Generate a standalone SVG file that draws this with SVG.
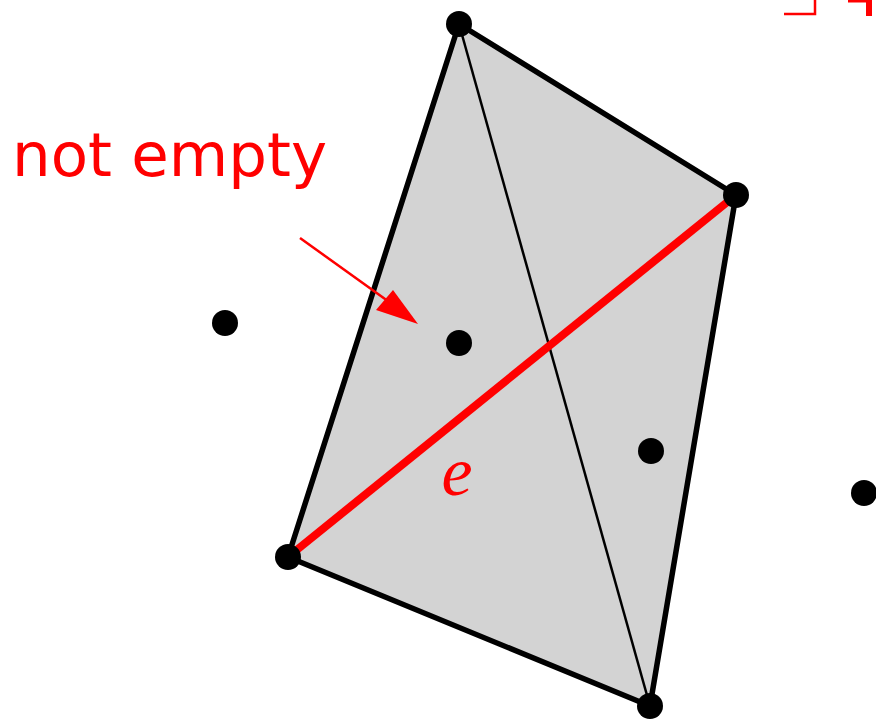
<svg xmlns="http://www.w3.org/2000/svg" width="876" height="719" viewBox="0 0 876 719">
<defs>
<style>
.pt{fill:#000}
.red{stroke:#ff0000;fill:none}
</style>
</defs>
<rect width="876" height="719" fill="#fff"/>
<g id="connectors">
<polygon id="quad" points="459,24 736,195 650,706 288,557" fill="#d3d3d3" stroke="#000" stroke-width="5.5" stroke-linejoin="round"/>
<line x1="459" y1="24" x2="650" y2="706" stroke="#000" stroke-width="2.5"/>
<line id="edge-e" x1="288" y1="557" x2="736" y2="195" stroke="#ff0000" stroke-width="8"/>
<line x1="300" y1="238" x2="392" y2="304" stroke="#ff0000" stroke-width="2.5"/>
<polygon points="418,324 376,310 393,290" fill="#ff0000"/>
</g>
<g id="nodes">
<circle id="v-top" class="pt" cx="459" cy="24" r="13"/>
<circle id="v-right" class="pt" cx="736" cy="195" r="13"/>
<circle id="v-bl" class="pt" cx="288" cy="557" r="13"/>
<circle id="v-bottom" class="pt" cx="650" cy="706" r="13"/>
<circle id="p1" class="pt" cx="459" cy="343" r="13"/>
<circle id="p2" class="pt" cx="651" cy="451" r="13"/>
<circle id="p3" class="pt" cx="225" cy="323" r="13"/>
<circle id="p4" class="pt" cx="864" cy="493" r="13"/>
</g>
<g id="labels">
<text x="12" y="176" font-family="DejaVu Sans, sans-serif" font-size="61" fill="#ff0000">not empty</text>
<text x="457" y="495" font-family="Liberation Serif, serif" font-style="italic" font-size="70" fill="#ff0000" text-anchor="middle">e</text>
</g>
<g id="cutoff">
<polyline points="784,14 815,14 815,0" class="red" stroke-width="2.5"/>
<line x1="848" y1="1" x2="872" y2="1" stroke="#ff0000" stroke-width="3"/>
<line x1="869" y1="0" x2="869" y2="16" stroke="#ff0000" stroke-width="6"/>
</g>
</svg>
